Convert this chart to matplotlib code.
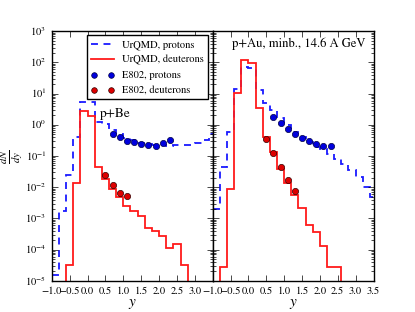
import numpy as np
import matplotlib
matplotlib.use("Agg")
import matplotlib.pyplot as plt

plt.style.use('classic')
plt.rcParams['font.family'] = ['STIXGeneral', 'DejaVu Serif']
plt.rcParams['mathtext.fontset'] = 'stix'

# ---- p+Be (left panel) ----
be_red_edges = [-0.6, -0.4, -0.2, 0.0, 0.2, 0.4, 0.6, 0.8, 1.0, 1.2, 1.4,
                1.6, 1.8, 2.0, 2.2, 2.4, 2.6, 2.8]
be_red_vals = [3.2e-5, 1.36e-2, 2.75, 1.9, 0.045, 0.018, 0.0087, 0.0047,
               0.0025, 0.0017, 0.0012, 5.1e-4, 4e-4, 2.75e-4, 1.1e-4,
               1.48e-4, 3.2e-5]
be_blue_edges = [-1.0, -0.8, -0.6, -0.4, -0.2, 0.0, 0.2, 0.4, 0.6, 0.8, 1.0,
                 1.2, 1.4, 1.6, 1.8, 2.0, 2.2, 2.4, 2.6, 2.8, 3.0, 3.2, 3.4, 3.6]
be_blue_vals = [1.5e-5, 1.7e-3, 0.025, 0.42, 5.5, 5.3, 1.2, 1.05, 0.7, 0.5,
                0.38, 0.32, 0.27, 0.25, 0.23, 0.22, 0.21, 0.22, 0.22, 0.23,
                0.26, 0.32, 0.5]
be_p_y = [0.7, 0.9, 1.1, 1.3, 1.5, 1.7, 1.9, 2.1, 2.3]
be_p_dn = [0.49, 0.40, 0.31, 0.29, 0.245, 0.23, 0.215, 0.26, 0.33]
be_d_y = [0.5, 0.7, 0.9, 1.1]
be_d_dn = [0.025, 0.0115, 0.0063, 0.0054]

# ---- p+Au (right panel) ----
au_red_edges = [-0.8, -0.6, -0.4, -0.2, 0.0, 0.2, 0.4, 0.6, 0.8, 1.0, 1.2,
                1.4, 1.6, 1.8, 2.0, 2.2, 2.4, 2.6]
au_red_vals = [2.8e-5, 8.7e-3, 10.4, 123, 96, 3.4, 0.42, 0.13, 0.038, 0.014,
               0.0058, 0.0022, 6e-4, 3.7e-4, 1.3e-4, 2.8e-5, 2.8e-5]
au_blue_edges = [-1.0, -0.8, -0.6, -0.4, -0.2, 0.0, 0.2, 0.4, 0.6, 0.8, 1.0,
                 1.2, 1.4, 1.6, 1.8, 2.0, 2.2, 2.4, 2.6, 2.8, 3.0, 3.2, 3.4, 3.6]
au_blue_vals = [2e-3, 0.044, 0.57, 14.4, 72, 68, 13, 5.0, 3.0, 1.6, 0.95,
                0.6, 0.4, 0.28, 0.2, 0.17, 0.12, 0.08, 0.056, 0.036, 0.021,
                0.01, 0.005]
au_p_y = [0.7, 0.9, 1.1, 1.3, 1.5, 1.7, 1.9, 2.1, 2.3]
au_p_dn = [1.76, 1.12, 0.74, 0.51, 0.38, 0.30, 0.245, 0.215, 0.215]
au_d_y = [0.5, 0.7, 0.9, 1.1, 1.3]
au_d_dn = [0.34, 0.126, 0.046, 0.017, 0.0078]

fig = plt.figure(figsize=(4.15, 3.12), dpi=100, facecolor='white')
ax1 = fig.add_subplot(1, 2, 1)
ax2 = fig.add_subplot(1, 2, 2, sharey=ax1)
fig.subplots_adjust(left=0.125, right=0.9, bottom=0.1, top=0.9, wspace=0)


def draw(ax, blue_e, blue_v, red_e, red_v, py, pdn, dy, ddn):
    ax.stairs(blue_v, blue_e, baseline=None, color='#1a1aff',
              ls=(0, (5, 4)), lw=1.3, label='UrQMD, protons')
    ax.stairs(red_v, red_e, baseline=1e-9, color='#ff1a1a', lw=1.3,
              label='UrQMD, deuterons')
    ax.plot(py, pdn, 'o', color='#0000dd', mec='#000044', mew=0.5, ms=4.5,
            ls='none', label='E802, protons')
    ax.plot(dy, ddn, 'o', color='#dd0000', mec='#330000', mew=0.5, ms=4.5,
            ls='none', label='E802, deuterons')
    ax.set_yscale('log')
    ax.set_ylim(1e-5, 1e3)
    ax.set_xlim(-1.0, 3.5)
    ax.tick_params(which='both', direction='in', top=True, right=True,
                   labelsize=7.6)
    ax.tick_params(which='major', length=4)
    ax.set_xlabel('$y$', fontsize=11, labelpad=1)


draw(ax1, be_blue_edges, be_blue_vals, be_red_edges, be_red_vals,
     be_p_y, be_p_dn, be_d_y, be_d_dn)
draw(ax2, au_blue_edges, au_blue_vals, au_red_edges, au_red_vals,
     au_p_y, au_p_dn, au_d_y, au_d_dn)

ax1.set_xticks([-1.0, -0.5, 0.0, 0.5, 1.0, 1.5, 2.0, 2.5, 3.0])
ax2.set_xticks([-1.0, -0.5, 0.0, 0.5, 1.0, 1.5, 2.0, 2.5, 3.0, 3.5])
plt.setp(ax2.get_yticklabels(), visible=False)

ax1.set_ylabel(r'$\frac{dN}{dy}$', fontsize=11, labelpad=0)
ax1.text(0.3, 0.655, 'p+Be', transform=ax1.transAxes, fontsize=9.6)
ax2.text(0.12, 0.936, 'p+Au, minb., 14.6 A GeV', transform=ax2.transAxes,
         fontsize=9.1)

leg = ax1.legend(loc='upper right', fontsize=7.6, numpoints=2,
                 handlelength=2.2, borderaxespad=0.4, fancybox=False,
                 markerscale=0.9)
leg.get_frame().set_edgecolor('black')

fig.savefig('out.png', dpi=100, facecolor='white')
